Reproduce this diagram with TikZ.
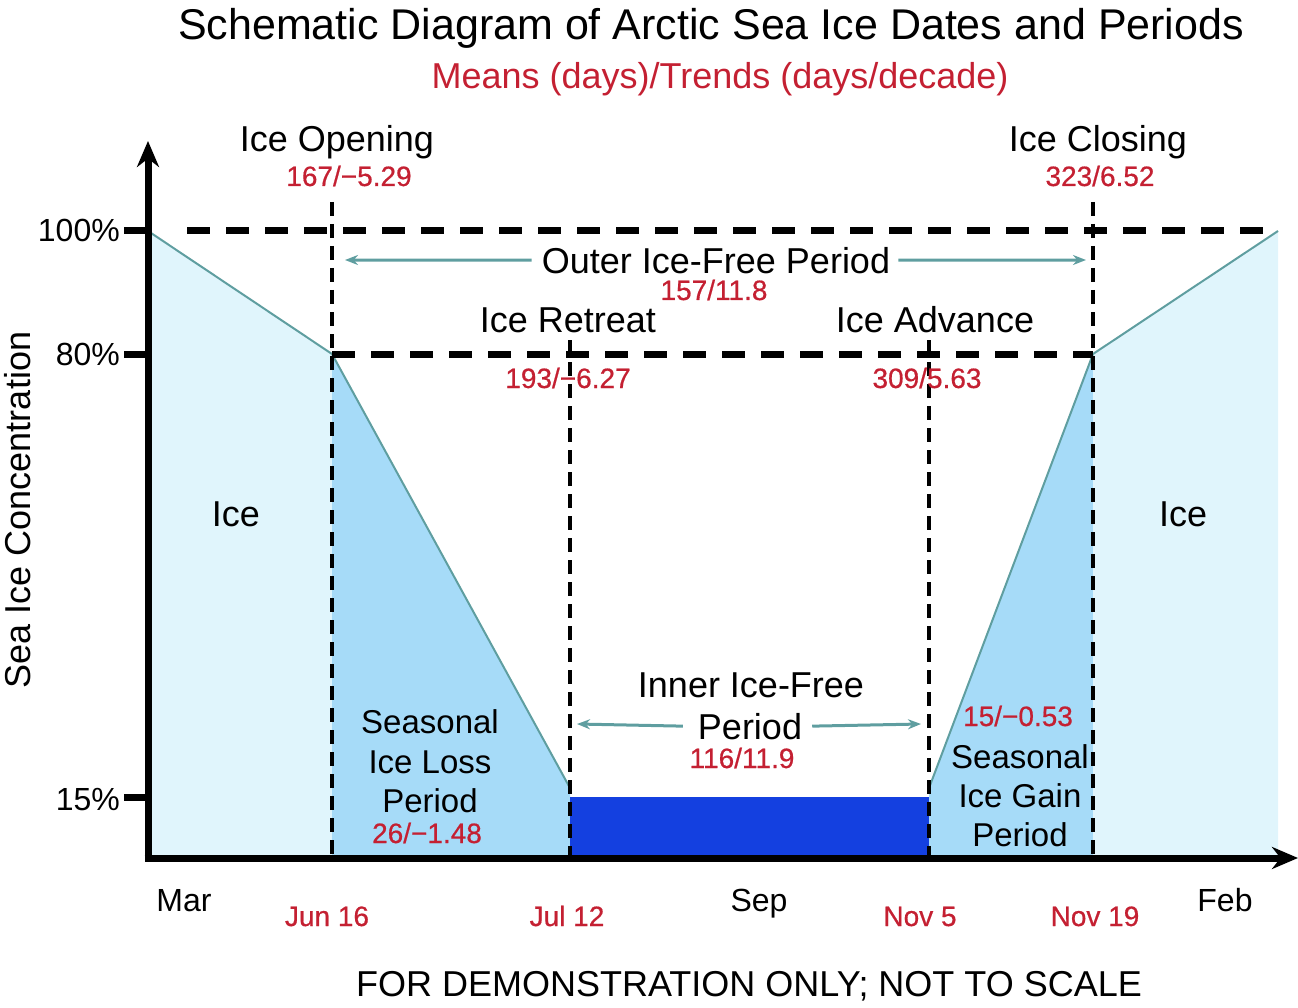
\documentclass[tikz,border=0pt]{standalone}
\usepackage{fontspec}
\setmainfont{Liberation Sans}
\newfontface\numface{Liberation Sans}[FakeBold=0.6]
\usetikzlibrary{arrows.meta}
\definecolor{icelight}{RGB}{224,245,252}
\definecolor{icemid}{RGB}{166,219,248}
\definecolor{icedark}{RGB}{20,64,224}
\definecolor{tealc}{RGB}{95,158,160}
\definecolor{numred}{RGB}{196,32,50}
\begin{document}
\begin{tikzpicture}[x=1pt,y=-1pt,
  lbl/.style={font=\fontsize{36}{42}\selectfont, anchor=base, inner sep=0pt},
  small/.style={font=\fontsize{33}{40}\selectfont, anchor=base, inner sep=0pt},
  num/.style={font=\numface\fontsize{28}{34}\selectfont, anchor=base, inner sep=0pt, text=numred},
  month/.style={font=\fontsize{32}{38}\selectfont, anchor=base, inner sep=0pt},
  edge/.style={draw=tealc, line width=2pt},
  hdash/.style={line width=7pt, dash pattern=on 23pt off 16pt},
  vdash/.style={line width=3.8pt, dash pattern=on 14pt off 8pt},
  tickmark/.style={line width=7pt},
  axis/.style={line width=7pt, -{Stealth[length=26pt,width=22pt]}},
  tarrow/.style={draw=tealc, line width=3pt, -{Stealth[length=13pt,width=10pt]}}]
\useasboundingbox (0,0) rectangle (1298,1008);

% fills
\fill[icelight] (148,231) -- (332,354) -- (332,858) -- (148,858) -- cycle;
\fill[icemid] (332,354) -- (570,788) -- (570,858) -- (332,858) -- cycle;
\fill[icedark] (570,797) rectangle (929,858);
\fill[icemid] (929,788) -- (1093,354) -- (1093,858) -- (929,858) -- cycle;
\fill[icelight] (1093,354) -- (1278,231) -- (1278,858) -- (1093,858) -- cycle;
\draw[edge] (148,231) -- (332,354) -- (570,788);
\draw[edge] (929,788) -- (1093,354) -- (1278,231);

% dashed lines
\draw[hdash] (187,231) -- (1272,231);
\draw[hdash] (332,354) -- (1093,354);
\draw[vdash] (332,202) -- (332,858);
\draw[vdash] (1093,202) -- (1093,858);
\draw[vdash] (570,340) -- (570,858);
\draw[vdash] (929,340) -- (929,858);

% ticks
\draw[tickmark] (124,231) -- (150,231);
\draw[tickmark] (124,354) -- (150,354);
\draw[tickmark] (124,797) -- (150,797);

% axes
\coordinate (origin) at (148,858);
\coordinate (ytop) at (148,141);
\coordinate (xend) at (1298,858);
\draw[axis] ([yshift=-3.5pt]origin) -- (ytop);
\draw[axis] ([xshift=-3.5pt]origin) -- (xend);

% title
\node[font=\fontsize{43}{50}\selectfont, anchor=base, inner sep=0pt] (title) at (711,40) {Schematic Diagram of Arctic Sea Ice Dates and Periods};
\node[font=\fontsize{36}{42}\selectfont, anchor=base, inner sep=0pt, text=numred] (subtitle) at (720,89) {Means (days)/Trends (days/decade)};

% y labels
\node[month, anchor=base east] (p100) at (120,242) {100\%};
\node[month, anchor=base east] (p80) at (120,365) {80\%};
\node[month, anchor=base east] (p15) at (120,810) {15\%};
\node[lbl, anchor=center, rotate=90] (ylab) at (18,510) {Sea Ice Concentration};

% top labels
\node[lbl] (open) at (337,152) {Ice Opening};
\node[num] (opennum) at (349,186) {167/−5.29};
\node[lbl] (close) at (1098,152) {Ice Closing};
\node[num] (closenum) at (1100,186) {323/6.52};

% outer period
\node[lbl] (outer) at (716,273) {Outer Ice-Free Period};
\node[num] (outernum) at (714,300) {157/11.8};
\coordinate (outerL) at (345,260);
\coordinate (outerR) at (1086,260);
\draw[tarrow] ([xshift=-10pt]outer.west) -- (outerL);
\draw[tarrow] ([xshift=8pt]outer.east) -- (outerR);

% retreat / advance
\node[lbl] (retreat) at (568,332) {Ice Retreat};
\node[num] (retreatnum) at (568,388) {193/−6.27};
\node[lbl] (advance) at (935,332) {Ice Advance};
\node[num] (advancenum) at (927,388) {309/5.63};

% ice
\node[lbl] (iceL) at (236,526) {Ice};
\node[lbl] (iceR) at (1183,526) {Ice};

% inner period
\node[lbl] (inner1) at (751,697) {Inner Ice-Free};
\node[lbl] (inner2) at (750,739) {Period};
\node[num] (innernum) at (742,768) {116/11.9};
\coordinate (innerL) at (577,724);
\coordinate (innerR) at (921,724);
\draw[tarrow] ([xshift=-15pt]inner2.west) -- (innerL);
\draw[tarrow] ([xshift=10pt]inner2.east) -- (innerR);

% seasonal loss
\node[small] (loss1) at (430,733) {Seasonal};
\node[small] (loss2) at (430,773) {Ice Loss};
\node[small] (loss3) at (430,812) {Period};
\node[num] (lossnum) at (427,843) {26/−1.48};

% seasonal gain
\node[num] (gainnum) at (1018,726) {15/−0.53};
\node[small] (gain1) at (1020,768) {Seasonal};
\node[small] (gain2) at (1020,807) {Ice Gain};
\node[small] (gain3) at (1020,846) {Period};

% x labels
\node[month] (mar) at (184,911) {Mar};
\node[month] (sep) at (759,911) {Sep};
\node[month] (feb) at (1225,911) {Feb};
\node[num] (jun) at (327,926) {Jun 16};
\node[num] (jul) at (567,926) {Jul 12};
\node[num] (nov5) at (920,926) {Nov 5};
\node[num] (nov19) at (1095,926) {Nov 19};

\node[lbl] (demo) at (749,996) {FOR DEMONSTRATION ONLY; NOT TO SCALE};
\end{tikzpicture}
\end{document}
